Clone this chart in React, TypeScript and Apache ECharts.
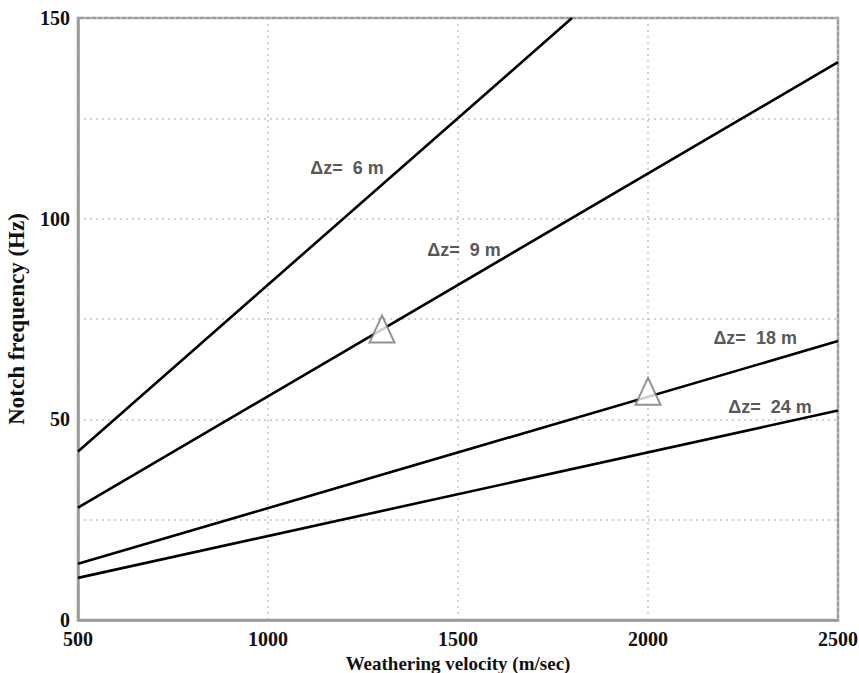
import React, { useEffect, useRef } from "react";
import * as echarts from "echarts";

const xTicks = [500, 1000, 1500, 2000, 2500];
const yLabelTicks = [0, 50, 100, 150];
const seriesNames = ["Δz= 6 m", "Δz= 9 m", "Δz= 18 m", "Δz= 24 m"];
const dz6: [number, number][] = [[500, 42], [1800, 150]];
const dz9: [number, number][] = [[500, 28], [2500, 139]];
const dz18: [number, number][] = [[500, 14], [2500, 69.5]];
const dz24: [number, number][] = [[500, 10.5], [2500, 52.2]];
const triangles: [number, number][] = [[1300, 72.5], [2000, 57]];
const labelAnchors: [number, number][] = [[1208, 112.6], [1516, 92.2], [2282, 70.3], [2321, 53.1]];
const labelTexts = ["Δz=  6 m", "Δz=  9 m", "Δz=  18 m", "Δz=  24 m"];

export default function App() {
  const ref = useRef<HTMLDivElement>(null);
  useEffect(() => {
    if (!ref.current) return;
    const chart = echarts.init(ref.current, null, { renderer: "svg" });
    const lineStyle = { color: "#000", width: 2.6 };
    const lines = [dz6, dz9, dz18, dz24].map((d, i) => ({
      name: seriesNames[i],
      type: "line",
      data: d,
      showSymbol: false,
      symbol: "none",
      lineStyle,
      z: 3,
    }));
    chart.setOption({
      animation: false,
      backgroundColor: "#fff",
      grid: {
        left: 78,
        right: 21,
        top: 18,
        bottom: 53,
        containLabel: false,
        outerBoundsMode: "none",
        show: true,
        borderColor: "#9a9a9a",
        borderWidth: 2.5,
      },
      xAxis: {
        type: "value",
        min: 500,
        max: 2500,
        interval: 500,
        name: "Weathering velocity (m/sec)",
        nameLocation: "middle",
        nameGap: 28,
        nameTextStyle: { fontFamily: "Liberation Serif", fontWeight: "bold", fontSize: 19, color: "#111" },
        axisLine: { show: true, lineStyle: { color: "#9a9a9a", width: 2.5 } },
        axisTick: { show: false },
        axisLabel: {
          fontFamily: "Liberation Serif",
          fontWeight: "bold",
          fontSize: 20,
          color: "#111",
          margin: 9,
          formatter: (v: number) => (xTicks.includes(v) ? String(v) : ""),
        },
        splitLine: { show: true, lineStyle: { color: "#c4c4c4", type: [2, 4], width: 1.5 } },
      },
      yAxis: {
        type: "value",
        min: 0,
        max: 150,
        interval: 25,
        name: "Notch frequency (Hz)",
        nameLocation: "middle",
        nameGap: 50,
        nameTextStyle: { fontFamily: "Liberation Serif", fontWeight: "bold", fontSize: 23, color: "#111" },
        axisLine: { show: true, lineStyle: { color: "#9a9a9a", width: 2.5 } },
        axisTick: { show: false },
        axisLabel: {
          fontFamily: "Liberation Serif",
          fontWeight: "bold",
          fontSize: 20,
          color: "#111",
          margin: 8,
          formatter: (v: number) => (yLabelTicks.includes(v) ? String(v) : ""),
        },
        splitLine: { show: true, lineStyle: { color: "#c4c4c4", type: [2, 4], width: 1.5 } },
      },
      series: [
        ...lines,
        {
          type: "scatter",
          data: triangles,
          symbol: "triangle",
          symbolSize: [25, 27],
          itemStyle: { color: "#fff", borderColor: "#777", borderWidth: 2 },
          z: 5,
        },
        {
          type: "scatter",
          data: labelAnchors.map((p, i) => ({ value: p, name: labelTexts[i] })),
          symbolSize: 0,
          label: {
            show: true,
            position: "inside",
            formatter: (p: any) => p.name,
            fontFamily: "Liberation Sans",
            fontWeight: "bold",
            fontSize: 18,
            color: "#2a2a2a",
          },
          z: 6,
        },
      ],
    });
    return () => chart.dispose();
  }, []);
  return (
    <div
      ref={ref}
      style={{ position: "absolute", left: 0, top: 0, width: 859, height: 673 }}
    />
  );
}
